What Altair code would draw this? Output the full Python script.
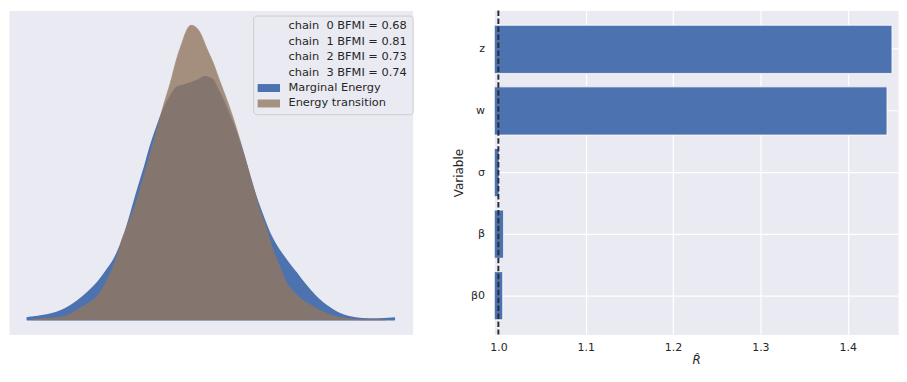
import altair as alt
import pandas as pd

# ---------------- data: energy plot ----------------
marginal_energy = [-4.94, -4.62, -4.22, -3.92, -3.72, -3.42, -3.12, -2.82, -2.52, -2.32,
                   -2.22, -2.02, -1.82, -1.62, -1.42, -1.22, -1.07, -0.82, -0.62, -0.42,
                   -0.22, -0.02, 0.18, 0.43, 0.58, 0.68, 0.83, 0.98, 1.18, 1.38,
                   1.58, 1.78, 1.98, 2.18, 2.38, 2.58, 2.78, 2.98, 3.18, 3.38,
                   3.58, 3.78, 3.98, 4.18, 4.38, 4.58, 4.78, 5.18, 5.58, 6.15]
marginal_density = [0.003, 0.005, 0.0085, 0.0135, 0.0185, 0.0285, 0.041, 0.056, 0.076, 0.091,
                    0.101, 0.126, 0.1585, 0.1935, 0.226, 0.261, 0.2835, 0.317, 0.336, 0.35,
                    0.353, 0.356, 0.3595, 0.366, 0.3635, 0.36, 0.345, 0.33, 0.306, 0.281,
                    0.251, 0.216, 0.1835, 0.156, 0.131, 0.112, 0.097, 0.0835, 0.071, 0.058,
                    0.046, 0.035, 0.026, 0.0185, 0.012, 0.0075, 0.0045, 0.0015, 0.001, 0.0025]

transition_energy = [-4.77, -4.22, -3.98, -3.72, -3.48, -3.22, -2.98, -2.82, -2.68, -2.52,
                     -2.38, -2.22, -2.08, -1.92, -1.62, -1.42, -1.22, -1.02, -0.82, -0.62,
                     -0.42, -0.27, -0.12, 0.0, 0.13, 0.28, 0.48, 0.68, 0.88, 1.08,
                     1.28, 1.48, 1.68, 1.88, 2.08, 2.28, 2.48, 2.68, 2.88, 3.08,
                     3.28, 3.58, 3.88, 4.18, 4.48, 4.88, 5.28, 5.88]
transition_density = [0.0005, 0.0025, 0.0035, 0.007, 0.0135, 0.021, 0.0285, 0.036, 0.046, 0.061,
                      0.076, 0.0975, 0.121, 0.141, 0.181, 0.216, 0.251, 0.286, 0.3235, 0.356,
                      0.3935, 0.416, 0.436, 0.443, 0.441, 0.432, 0.4085, 0.386, 0.3585, 0.332,
                      0.3035, 0.271, 0.236, 0.201, 0.166, 0.1385, 0.106, 0.081, 0.057, 0.0435,
                      0.0335, 0.0235, 0.015, 0.008, 0.004, 0.001, 0.0, 0.0]

chain_labels = ["chain\u00a0\u00a00 BFMI = 0.68", "chain\u00a0\u00a01 BFMI = 0.81",
                "chain\u00a0\u00a02 BFMI = 0.73", "chain\u00a0\u00a03 BFMI = 0.74"]
series_names = ["Marginal Energy", "Energy transition"]

# ---------------- data: R-hat ----------------
variables = ["z", "w", "σ", "β", "β0"]
rhat_values = [1.4507, 1.4450, 1.0008, 1.0060, 1.0050]
rhat_ticks = [1.0, 1.1, 1.2, 1.3, 1.4]
rhat_reference = [1.0]

BG = "#EAEAF2"
BLUE = "#4C72B0"
BROWN = "#937860"
TXT = "#262626"
FONT = "DejaVu Sans"

energy_df = pd.concat([
    pd.DataFrame({"energy": marginal_energy, "density": marginal_density, "series": series_names[0]}),
    pd.DataFrame({"energy": transition_energy, "density": transition_density, "series": series_names[1]}),
])

xmin = min(marginal_energy + transition_energy)
xmax = max(marginal_energy + transition_energy)
xpad = (xmax - xmin) * 0.05
ymax = max(marginal_density + transition_density)
ypad = ymax * 0.05

xs = alt.Scale(domain=[xmin - xpad, xmax + xpad], nice=False, zero=False)
ys = alt.Scale(domain=[-ypad, ymax + ypad], nice=False, zero=False)

legend_domain = chain_labels + series_names
legend_range = ["transparent"] * 4 + [BLUE, "#A59180"]

base = alt.Chart(energy_df)

blue_area = base.transform_filter(alt.datum.series == series_names[0]).mark_area(
    stroke=BLUE, strokeWidth=1.6, strokeJoin="round", interpolate="monotone"
).encode(
    x=alt.X("energy:Q", scale=xs, axis=None),
    y=alt.Y("density:Q", scale=ys, axis=None, stack=None),
    y2=alt.datum(0),
    color=alt.Color(
        "series:N",
        scale=alt.Scale(domain=legend_domain, range=legend_range),
        legend=alt.Legend(
            title=None, orient="none", legendX=245, legendY=5,
            symbolType="M-2.8,-1H2.8V1H-2.8Z", symbolSize=64, symbolStrokeWidth=0,
            symbolOffset=5, labelOffset=14, rowPadding=2.5,
            labelFont=FONT, labelFontSize=11.4, labelColor=TXT,
            padding=5, strokeColor="#CCCCCC", fillColor=BG, cornerRadius=3,
            symbolOpacity=1,
        ),
    ),
)

brown_area = base.transform_filter(alt.datum.series == series_names[1]).mark_area(
    color=BROWN, opacity=0.8, stroke=BROWN, strokeWidth=1, strokeOpacity=0.8,
    interpolate="monotone"
).encode(
    x=alt.X("energy:Q", scale=xs, axis=None),
    y=alt.Y("density:Q", scale=ys, axis=None, stack=None),
    y2=alt.datum(0),
)

left = alt.layer(blue_area, brown_area).properties(width=405, height=325)

# ---------------- right panel ----------------
rhat_df = pd.DataFrame({"Variable": variables, "rhat": rhat_values})
ref_df = pd.DataFrame({"ref": rhat_reference})

xr = alt.Scale(domain=[0.9954, 1.4576], nice=False, zero=False)

bars = alt.Chart(rhat_df).mark_bar(color=BLUE, stroke="white", strokeWidth=0.8, clip=True).encode(
    x=alt.X("rhat:Q", scale=xr, stack=None,
            axis=alt.Axis(values=rhat_ticks, format=".1f", title="R\u0302",
                          titleFontStyle="italic", titleFontWeight="normal",
                          titleFontSize=12, titleColor=TXT, titlePadding=2,
                          labelFontSize=11, labelColor=TXT, labelFont=FONT, titleFont=FONT,
                          labelPadding=7, ticks=False, domain=False,
                          grid=True, gridColor="white", gridWidth=1.2)),
    y=alt.Y("Variable:N", sort=variables,
            scale=alt.Scale(paddingInner=0.218, paddingOuter=0.238),
            axis=alt.Axis(title="Variable", titleFontSize=12, titleColor=TXT,
                          titleFontWeight="normal", titleFont=FONT, titlePadding=5,
                          labelFontSize=11, labelColor=TXT, labelFont=FONT,
                          labelPadding=10, ticks=False, domain=False,
                          grid=True, gridColor="white", gridWidth=1.2)),
)

ref_line = alt.Chart(ref_df).mark_rule(
    color="#2a2d38", strokeWidth=2, strokeDash=[5.5, 2.5]
).encode(x=alt.X("ref:Q", scale=xr))

right = alt.layer(bars, ref_line).properties(width=405, height=325)

chart = alt.hconcat(left, right, spacing=82, bounds="flush").properties(
    padding=0
).configure_view(
    fill=BG, stroke="transparent"
)

chart.save("out.html", embed_options={"renderer": "svg", "actions": False})
